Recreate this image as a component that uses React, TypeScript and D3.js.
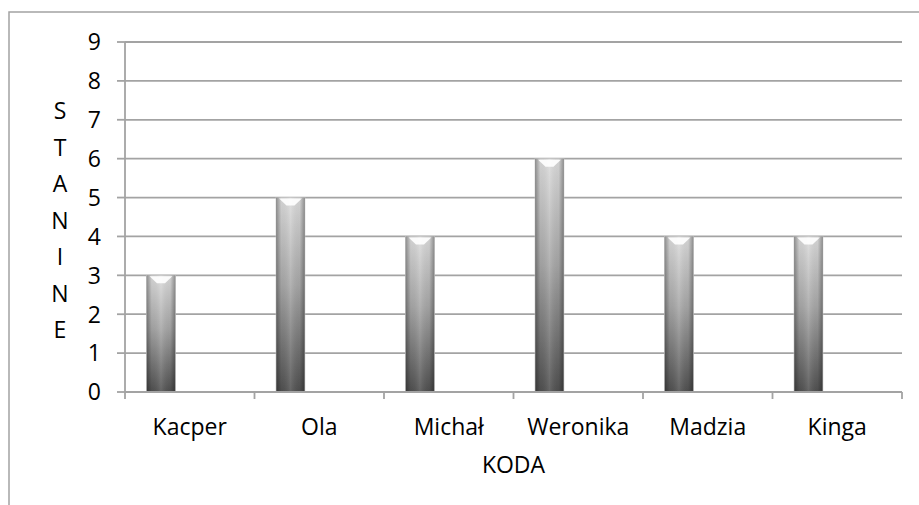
import { useEffect, useRef } from "react";
import * as d3 from "d3";

const NAMES = ["Kacper", "Ola", "Michał", "Weronika", "Madzia", "Kinga"];
const STANINE = [3, 5, 4, 6, 4, 4];
const Y_TICKS = [0, 1, 2, 3, 4, 5, 6, 7, 8, 9];
const Y_LABEL = "STANINE";
const X_LABEL = "KODA";

const W = 919;
const H = 505;
const FONT = "'Open Sans', 'Noto Sans', sans-serif";
const GRID = "#a3a3a3";
const FS = 23;

export default function App() {
  const svgRef = useRef<SVGSVGElement>(null);

  useEffect(() => {
    if (!svgRef.current) return;
    const svg = d3.select(svgRef.current);
    svg.selectAll("*").remove();

    const left = 125, right = 902, top = 42, bottom = 392;

    const x = d3.scaleBand<string>().domain(NAMES).range([left, right]).padding(0);
    const y = d3.scaleLinear().domain([0, 9]).range([bottom, top]);

    // excel-style clustered slot: 3 slots, 150% gap, bar sits in the first one
    const bw = x.bandwidth();
    const barW = bw / 4.5;
    const barOff = barW * 0.75;

    const defs = svg.append("defs");
    const vg = defs.append("linearGradient").attr("id", "vg").attr("x1", 0).attr("y1", 0).attr("x2", 0).attr("y2", 1);
    vg.append("stop").attr("offset", "0%").attr("stop-color", "#dcdcdc");
    vg.append("stop").attr("offset", "45%").attr("stop-color", "#a8a8a8");
    vg.append("stop").attr("offset", "100%").attr("stop-color", "#505050");
    const hg = defs.append("linearGradient").attr("id", "hg").attr("x1", 0).attr("y1", 0).attr("x2", 1).attr("y2", 0);
    hg.append("stop").attr("offset", "0%").attr("stop-color", "#000").attr("stop-opacity", 0.35);
    hg.append("stop").attr("offset", "18%").attr("stop-color", "#000").attr("stop-opacity", 0.05);
    hg.append("stop").attr("offset", "50%").attr("stop-color", "#fff").attr("stop-opacity", 0.12);
    hg.append("stop").attr("offset", "82%").attr("stop-color", "#000").attr("stop-opacity", 0.05);
    hg.append("stop").attr("offset", "100%").attr("stop-color", "#000").attr("stop-opacity", 0.35);

    // outer chart frame (runs off the picture right and bottom)
    svg.append("rect")
      .attr("x", 9).attr("y", 12).attr("width", W + 20).attr("height", H + 20)
      .attr("fill", "none").attr("stroke", GRID).attr("stroke-width", 1.5);

    // grid lines
    svg.selectAll("line.grid")
      .data(Y_TICKS.filter((d) => d > 0))
      .join("line")
      .attr("x1", left).attr("x2", right)
      .attr("y1", (d) => y(d)).attr("y2", (d) => y(d))
      .attr("stroke", GRID).attr("stroke-width", 1.8);

    // bars
    const bars = svg.selectAll("g.bar")
      .data(NAMES.map((n, i) => ({ n, v: STANINE[i] })))
      .join("g");
    bars.append("rect")
      .attr("x", (d) => (x(d.n) as number) + barOff)
      .attr("y", (d) => y(d.v))
      .attr("width", barW)
      .attr("height", (d) => y(0) - y(d.v))
      .attr("fill", "url(#vg)")
      .attr("stroke", "#c8c8c8").attr("stroke-width", 0.8);
    bars.append("rect")
      .attr("x", (d) => (x(d.n) as number) + barOff)
      .attr("y", (d) => y(d.v))
      .attr("width", barW)
      .attr("height", (d) => y(0) - y(d.v))
      .attr("fill", "url(#hg)");
    // bevel highlight at top
    bars.append("path")
      .attr("d", (d) => {
        const x0 = (x(d.n) as number) + barOff;
        const yt = y(d.v);
        return `M${x0 + 3},${yt + 1} L${x0 + barW - 3},${yt + 1} L${x0 + barW / 2 + 4},${yt + 8} L${x0 + barW / 2 - 4},${yt + 8} Z`;
      })
      .attr("fill", "#fff").attr("opacity", 0.9);

    // y axis
    svg.append("line")
      .attr("x1", left).attr("x2", left).attr("y1", top).attr("y2", bottom)
      .attr("stroke", GRID).attr("stroke-width", 1.8);
    svg.selectAll("line.ytick")
      .data(Y_TICKS)
      .join("line")
      .attr("x1", left - 8).attr("x2", left)
      .attr("y1", (d) => y(d)).attr("y2", (d) => y(d))
      .attr("stroke", GRID).attr("stroke-width", 1.8);
    svg.selectAll("text.ylab")
      .data(Y_TICKS)
      .join("text")
      .attr("x", 101).attr("y", (d) => y(d))
      .attr("dy", "0.36em")
      .attr("text-anchor", "end")
      .attr("font-family", FONT).attr("font-size", FS).attr("fill", "#000")
      .text((d) => String(d));

    // x axis
    svg.append("line")
      .attr("x1", left).attr("x2", right).attr("y1", bottom).attr("y2", bottom)
      .attr("stroke", GRID).attr("stroke-width", 1.8);
    const bounds = NAMES.map((n) => x(n) as number).concat([right]);
    svg.selectAll("line.xtick")
      .data(bounds)
      .join("line")
      .attr("x1", (d) => d).attr("x2", (d) => d)
      .attr("y1", bottom).attr("y2", bottom + 7)
      .attr("stroke", GRID).attr("stroke-width", 1.8);
    svg.selectAll("text.xlab")
      .data(NAMES)
      .join("text")
      .attr("x", (d) => (x(d) as number) + bw / 2)
      .attr("y", 435)
      .attr("text-anchor", "middle")
      .attr("font-family", FONT).attr("font-size", FS).attr("fill", "#000")
      .text((d) => d);

    // axis titles
    svg.append("text")
      .attr("x", (left + right) / 2).attr("y", 473)
      .attr("text-anchor", "middle")
      .attr("font-family", FONT).attr("font-size", FS).attr("fill", "#000")
      .text(X_LABEL);
    svg.selectAll("text.ytitle")
      .data(Y_LABEL.split(""))
      .join("text")
      .attr("x", 60).attr("y", (_, i) => 111 + i * 36.5)
      .attr("dy", "0.36em")
      .attr("text-anchor", "middle")
      .attr("font-family", FONT).attr("font-size", FS).attr("fill", "#000")
      .text((d) => d);
  }, []);

  return (
    <svg
      ref={svgRef}
      width={W}
      height={H}
      style={{ position: "absolute", left: 0, top: 0, background: "#fff", display: "block" }}
    />
  );
}
